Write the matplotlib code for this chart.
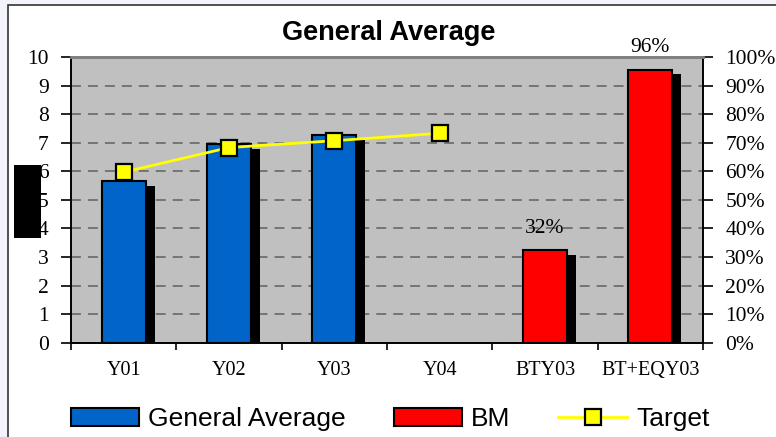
import numpy as np
import matplotlib
matplotlib.use("Agg")
import matplotlib.pyplot as plt
from matplotlib.patches import Rectangle, Patch
from matplotlib.lines import Line2D

# data
categories = ["Y01", "Y02", "Y03", "Y04", "BTY03", "BT+EQY03"]
general_avg = [5.66, 6.94, 7.27, np.nan, np.nan, np.nan]
bm = [np.nan, np.nan, np.nan, np.nan, 0.323, 0.956]
target = [5.97, 6.83, 7.07, 7.33, np.nan, np.nan]
left_ticks = list(range(0, 11))
right_ticks = [i / 10 for i in range(0, 11)]

W, H = 776, 437
fig = plt.figure(figsize=(W / 100, H / 100), dpi=100, facecolor="#f3f3fb")

# white chart frame
fig.patches.append(Rectangle((8 / W, -0.05), 1.0, 1 - 5 / H + 0.05,
                             transform=fig.transFigure, facecolor="white",
                             edgecolor="#333333", lw=1.2, zorder=-1))

ax = fig.add_axes([71 / W, 1 - 342.7 / H, (703 - 71) / W, (342.7 - 57) / H])
ax.set_facecolor("#c0c0c0")
ax2 = ax.twinx()

x = np.arange(len(categories))
bw = 0.42
sx = 0.085     # shadow shift (right)
sdrop = 0.17   # shadow drop on the left scale

ga = np.array(general_avg)
ax.bar(x + sx, ga - sdrop, width=bw, color="black", lw=0, zorder=2)
ax.bar(x, ga, width=bw, color="#0064c8", edgecolor="black", lw=1.5, zorder=3)

bmv = np.array(bm)
ax2.bar(x + sx, bmv - sdrop / 10, width=bw, color="black", lw=0, zorder=2)
ax2.bar(x, bmv, width=bw, color="#ff0000", edgecolor="black", lw=1.5, zorder=3)
for xi, v in zip(x, bm):
    if not np.isnan(v):
        ax2.annotate(f"{round(v * 100)}%", (xi, v), xytext=(0, 9),
                     textcoords="offset points", ha="center", va="bottom",
                     fontsize=15.5, family="Liberation Serif")

ax.plot(x, target, color="#ffff00", lw=2, marker="s", markersize=11,
        markerfacecolor="#ffff00", markeredgecolor="black",
        markeredgewidth=1.6, zorder=4)

ax.set_xlim(-0.5, 5.5)
ax.set_ylim(0, 10)
ax2.set_ylim(0, 1)

ax.set_axisbelow(True)
ax.set_yticks(left_ticks)
ax.yaxis.grid(True, color="#606060", lw=1.1, linestyle=(0, (6.5, 4.6)))
ax.tick_params(axis="y", length=7, width=1.2, pad=9, labelsize=15.5)
ax.set_xticks(np.arange(-0.5, 6, 1))
ax.set_xticklabels([])
ax.set_xticks(x, minor=True)
ax.set_xticklabels(categories, minor=True)
ax.tick_params(axis="x", which="major", length=5, width=1.2, direction="out")
ax.tick_params(axis="x", which="minor", length=0, pad=13, labelsize=14.5)

ax2.set_yticks(right_ticks)
ax2.set_yticklabels([f"{round(t * 100)}%" for t in right_ticks])
ax2.tick_params(axis="y", length=7, width=1.2, pad=9, labelsize=15.5)

for a in (ax, ax2):
    for lab in a.get_xticklabels(minor=True) + a.get_yticklabels():
        lab.set_family("Liberation Serif")
    a.spines["top"].set_color("#808080")
    a.spines["top"].set_linewidth(2)
    for s in ("left", "right", "bottom"):
        a.spines[s].set_linewidth(1.2)

fig.text(389 / W, 1 - 33 / H, "General Average", ha="center", va="center",
         fontsize=19.5, fontweight="bold", family="Liberation Sans")

# black box on the left (covered axis title)
fig.patches.append(Rectangle((14 / W, 1 - 238 / H), 27 / W, 73 / H,
                             transform=fig.transFigure, facecolor="black",
                             lw=0, zorder=5))

handles = [Patch(facecolor="#0064c8", edgecolor="black", lw=1.5),
           Patch(facecolor="#ff0000", edgecolor="black", lw=1.5),
           Line2D([], [], color="#ffff00", lw=2, marker="s", markersize=11,
                  markerfacecolor="#ffff00", markeredgecolor="black",
                  markeredgewidth=1.6)]
fig.legend(handles, ["General Average", "BM", "Target"], loc="center",
           bbox_to_anchor=(390 / W, 1 - 419 / H), ncol=3, frameon=False,
           prop={"family": "Liberation Sans", "size": 19},
           handlelength=2.6, handleheight=0.7, handletextpad=0.35,
           columnspacing=1.8)

fig.savefig("out.png", dpi=100, facecolor=fig.get_facecolor())
